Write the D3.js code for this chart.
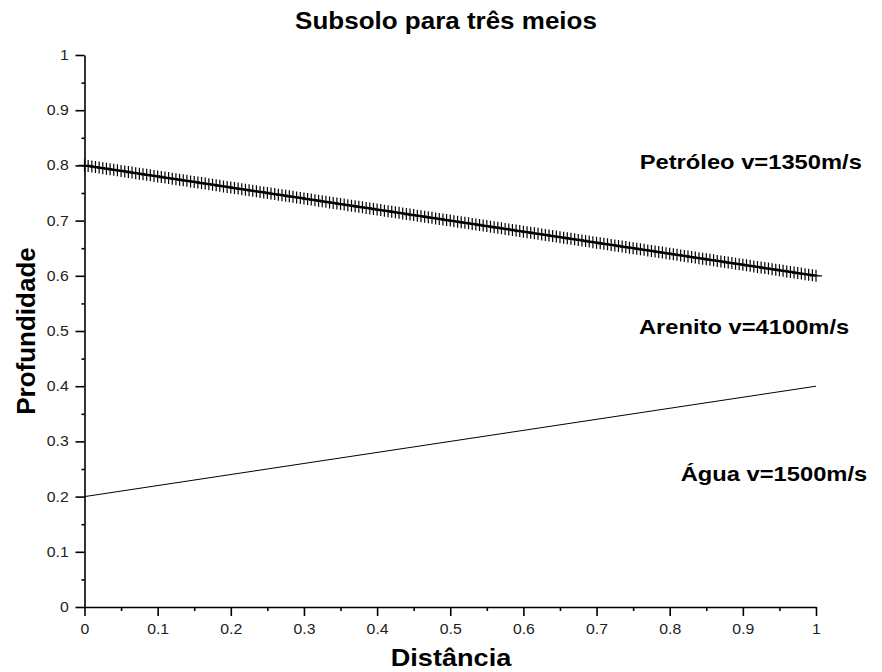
<!DOCTYPE html>
<html>
<head>
<meta charset="utf-8">
<script src="https://cdn.jsdelivr.net/npm/d3@7"></script>
<style>
  body { margin: 0; background: #fff; }
  svg { display: block; }
  text { font-family: "Liberation Sans", Arial, sans-serif; }
</style>
</head>
<body>
<svg id="grafico" width="882" height="672"></svg>
<script>
// interface petróleo/arenito (curva com marcadores "+")
const petroX = [
  0,.005,.01,.015,.02,.025,.03,.035,.04,.045,
  .05,.055,.06,.065,.07,.075,.08,.085,.09,.095,
  .1,.105,.11,.115,.12,.125,.13,.135,.14,.145,
  .15,.155,.16,.165,.17,.175,.18,.185,.19,.195,
  .2,.205,.21,.215,.22,.225,.23,.235,.24,.245,
  .25,.255,.26,.265,.27,.275,.28,.285,.29,.295,
  .3,.305,.31,.315,.32,.325,.33,.335,.34,.345,
  .35,.355,.36,.365,.37,.375,.38,.385,.39,.395,
  .4,.405,.41,.415,.42,.425,.43,.435,.44,.445,
  .45,.455,.46,.465,.47,.475,.48,.485,.49,.495,
  .5,.505,.51,.515,.52,.525,.53,.535,.54,.545,
  .55,.555,.56,.565,.57,.575,.58,.585,.59,.595,
  .6,.605,.61,.615,.62,.625,.63,.635,.64,.645,
  .65,.655,.66,.665,.67,.675,.68,.685,.69,.695,
  .7,.705,.71,.715,.72,.725,.73,.735,.74,.745,
  .75,.755,.76,.765,.77,.775,.78,.785,.79,.795,
  .8,.805,.81,.815,.82,.825,.83,.835,.84,.845,
  .85,.855,.86,.865,.87,.875,.88,.885,.89,.895,
  .9,.905,.91,.915,.92,.925,.93,.935,.94,.945,
  .95,.955,.96,.965,.97,.975,.98,.985,.99,.995,
  1
];
const petroY = [
  .8,.799,.798,.797,.796,.795,.794,.793,.792,.791,
  .79,.789,.788,.787,.786,.785,.784,.783,.782,.781,
  .78,.779,.778,.777,.776,.775,.774,.773,.772,.771,
  .77,.769,.768,.767,.766,.765,.764,.763,.762,.761,
  .76,.759,.758,.757,.756,.755,.754,.753,.752,.751,
  .75,.749,.748,.747,.746,.745,.744,.743,.742,.741,
  .74,.739,.738,.737,.736,.735,.734,.733,.732,.731,
  .73,.729,.728,.727,.726,.725,.724,.723,.722,.721,
  .72,.719,.718,.717,.716,.715,.714,.713,.712,.711,
  .71,.709,.708,.707,.706,.705,.704,.703,.702,.701,
  .7,.699,.698,.697,.696,.695,.694,.693,.692,.691,
  .69,.689,.688,.687,.686,.685,.684,.683,.682,.681,
  .68,.679,.678,.677,.676,.675,.674,.673,.672,.671,
  .67,.669,.668,.667,.666,.665,.664,.663,.662,.661,
  .66,.659,.658,.657,.656,.655,.654,.653,.652,.651,
  .65,.649,.648,.647,.646,.645,.644,.643,.642,.641,
  .64,.639,.638,.637,.636,.635,.634,.633,.632,.631,
  .63,.629,.628,.627,.626,.625,.624,.623,.622,.621,
  .62,.619,.618,.617,.616,.615,.614,.613,.612,.611,
  .61,.609,.608,.607,.606,.605,.604,.603,.602,.601,
  .6
];

// interface arenito/água (reta simples)
const aguaX = [0, 1];
const aguaY = [0.2, 0.4];

// rótulos das camadas
const camadas = ["Petróleo v=1350m/s", "Arenito v=4100m/s", "Água v=1500m/s"];
const camadaX = [0.759, 0.758, 0.815];
const camadaY = [0.793, 0.495, 0.228];

// ticks
const ticksMaiores = [0, 0.1, 0.2, 0.3, 0.4, 0.5, 0.6, 0.7, 0.8, 0.9, 1];
const ticksMenores = [0.05, 0.15, 0.25, 0.35, 0.45, 0.55, 0.65, 0.75, 0.85, 0.95];

const titulo = "Subsolo para três meios";
const rotuloX = "Distância";
const rotuloY = "Profundidade";

const svg = d3.select("#grafico");

const scx = d3.scaleLinear([0, 1], [84.5, 816]);
const scy = d3.scaleLinear([0, 1], [607, 55]);

const fmt = d => d3.format("~g")(d);
const esticar = 1.13;  // o texto do original é um pouco mais largo

// eixo y
const gy = svg.append("g").attr("transform", "translate(" + scx(0) + ",0)");
gy.call(d3.axisLeft(scy).tickValues(ticksMaiores).tickFormat(fmt)
  .tickSize(9).tickSizeOuter(0).tickPadding(5));
gy.append("g").call(d3.axisLeft(scy).tickValues(ticksMenores).tickFormat("")
  .tickSize(3).tickSizeOuter(0))
  .select(".domain").remove();

// eixo x
const gx = svg.append("g").attr("transform", "translate(0," + scy(0) + ")");
gx.call(d3.axisBottom(scx).tickValues(ticksMaiores).tickFormat(fmt)
  .tickSize(9).tickSizeOuter(0).tickPadding(8));
gx.append("g").call(d3.axisBottom(scx).tickValues(ticksMenores).tickFormat("")
  .tickSize(4).tickSizeOuter(0))
  .select(".domain").remove();

svg.selectAll(".domain, .tick line")
  .attr("stroke", "#000")
  .attr("stroke-width", 1.6);
svg.selectAll(".tick text")
  .attr("font-family", "Liberation Sans")
  .attr("font-size", 14)
  .attr("fill", "#222")
  .attr("transform", "scale(" + esticar + ",1)");

// reta arenito/água
svg.append("path")
  .datum(d3.zip(aguaX, aguaY))
  .attr("fill", "none")
  .attr("stroke", "#000")
  .attr("stroke-width", 1)
  .attr("d", d3.line().x(d => scx(d[0])).y(d => scy(d[1])));

// curva petróleo com marcadores
const petro = d3.zip(petroX, petroY);
svg.append("path")
  .datum(petro)
  .attr("fill", "none")
  .attr("stroke", "#000")
  .attr("stroke-width", 1.5)
  .attr("d", d3.line().x(d => scx(d[0])).y(d => scy(d[1])));

const ha = 6, va = 6;
svg.append("g")
  .selectAll("path")
  .data(petro)
  .join("path")
  .attr("fill", "none")
  .attr("stroke", "#000")
  .attr("stroke-width", 1.2)
  .attr("d", d => {
    const x = scx(d[0]), y = scy(d[1]);
    return "M" + (x - ha) + "," + y + "H" + (x + ha) + "M" + x + "," + (y - va) + "V" + (y + va);
  });

// rótulos das camadas
svg.append("g")
  .selectAll("text")
  .data(camadas)
  .join("text")
  .attr("transform", (d, i) => "translate(" + scx(camadaX[i]) + "," + scy(camadaY[i]) + ") scale(" + esticar + ",1)")
  .attr("font-size", 21)
  .attr("font-weight", "bold")
  .attr("fill", "#000")
  .text(d => d);

// títulos
svg.append("text")
  .attr("transform", "translate(446,29) scale(" + esticar + ",1)")
  .attr("text-anchor", "middle")
  .attr("font-size", 23)
  .attr("font-weight", "bold")
  .text(titulo);

svg.append("text")
  .attr("transform", "translate(451,666) scale(" + esticar + ",1)")
  .attr("text-anchor", "middle")
  .attr("font-size", 24)
  .attr("font-weight", "bold")
  .text(rotuloX);

svg.append("text")
  .attr("transform", "translate(35,331) rotate(-90)")
  .attr("text-anchor", "middle")
  .attr("font-size", 26)
  .attr("font-weight", "bold")
  .text(rotuloY);
</script>
</body>
</html>
